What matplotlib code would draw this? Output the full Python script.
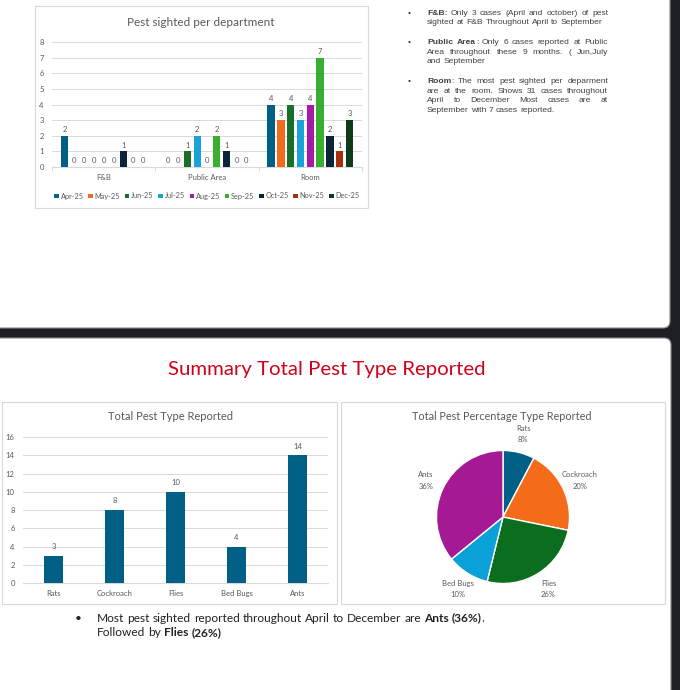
import matplotlib
matplotlib.use('Agg')
import matplotlib.pyplot as plt
import numpy as np
from matplotlib.patches import FancyBboxPatch, Rectangle

# ---------------- data ----------------
months = ['Apr-25', 'May-25', 'Jun-25', 'Jul-25', 'Aug-25', 'Sep-25', 'Oct-25', 'Nov-25', 'Dec-25']
departments = ['F&B', 'Public Area', 'Room']
fnb_counts = [2, 0, 0, 0, 0, 0, 1, 0, 0]
public_counts = [0, 0, 1, 2, 0, 2, 1, 0, 0]
room_counts = [4, 3, 4, 3, 4, 7, 2, 1, 3]
month_colors = ['#005F85', '#F26B1D', '#1A6E2A', '#1AA3DA', '#A51CA4',
                '#3AAE2E', '#0D2438', '#A5300F', '#0E3A17']

pest_types = ['Rats', 'Cockroach', 'Flies', 'Bed Bugs', 'Ants']
pest_totals = [3, 8, 10, 4, 14]
pest_pct_labels = ['8%', '20%', '26%', '10%', '36%']
pest_colors = ['#005F85', '#F46B1A', '#0B6E1E', '#0AA0D8', '#A51A94']

dept_yticks = list(range(0, 9))
type_yticks = list(range(0, 17, 2))

notes_top = [
    ["**F&B:** Only 3 cases (April and october)  of pest",
     "sighted at F&B Throughout April to September"],
    ["**Public Area**: Only 6 cases reported at Public",
     "Area throughout these 9 months. ( Jun,July",
     "and September"],
    ["**Room**: The most pest sighted per deparment",
     "are at the room. Shows 31 cases throughout",
     "April to December Most cases are at",
     "September with 7 cases reported."],
]
note_bottom = ["Most pest sighted reported throughout April to December are **Ants (36%)**,",
               "Followed by **Flies (26%)**"]

# ---------------- figure ----------------
W, H = 680, 690
GRAY = '#595959'
CHART_FONT = 'Lato'
fig = plt.figure(figsize=(W / 100, H / 100), dpi=100)
fig.patch.set_facecolor('#1E1F24')
bg = fig.add_axes([0, 0, 1, 1])
bg.set_xlim(0, W)
bg.set_ylim(H, 0)
bg.axis('off')
renderer = fig.canvas.get_renderer()

# slides
bg.add_patch(FancyBboxPatch((-20, -20), 690, 348, boxstyle='round,pad=0,rounding_size=7',
                            fc='white', ec='#8a8a8a', lw=0.8))
bg.add_patch(FancyBboxPatch((-20, 338), 691, 380, boxstyle='round,pad=0,rounding_size=7',
                            fc='white', ec='#8a8a8a', lw=0.8))
# chart frames
for (x0, y0, x1, y1) in [(35, 6, 368, 208), (2, 402, 337, 604), (341, 402, 665, 604)]:
    bg.add_patch(Rectangle((x0, y0), x1 - x0, y1 - y0, fill=False, ec='#d9d9d9', lw=0.8))


def measure(s, **kw):
    t = bg.text(0, 0, s, **kw)
    w = t.get_window_extent(renderer).width
    t.remove()
    return w


def fit_size(s, target, family, weight='normal'):
    return 10 * target / measure(s, fontsize=10, family=family, fontweight=weight)


def parse(line):
    chars, bold, i = [], False, 0
    while i < len(line):
        if line.startswith('**', i):
            bold = not bold
            i += 2
            continue
        chars.append((line[i], bold))
        i += 1
    words, cur = [], []
    for ch, b in chars:
        if ch == ' ':
            if cur:
                words.append(cur)
                cur = []
        else:
            cur.append((ch, b))
    if cur:
        words.append(cur)
    out = []
    for w in words:
        runs = []
        for ch, b in w:
            if runs and runs[-1][1] == b:
                runs[-1][0] += ch
            else:
                runs.append([ch, b])
        out.append(runs)
    return out


def draw_line(line, x0, yb, size, family, color, width=None):
    words = parse(line)
    kw = dict(fontsize=size, family=family)
    space = measure('x x', **kw) - measure('xx', **kw)
    widths = []
    for w in words:
        widths.append([measure(r, fontweight='bold' if b else 'normal', **kw) for r, b in w])
    total = sum(sum(ws) for ws in widths)
    gap = (width - total) / (len(words) - 1) if (width and len(words) > 1) else space
    x = x0
    for w, ws in zip(words, widths):
        for (r, b), rw in zip(w, ws):
            bg.text(x, yb, r, ha='left', va='baseline', color=color,
                    fontweight='bold' if b else 'normal', **kw)
            x += rw
        x += gap


def px_axes(x0, y0, x1, y1):
    return fig.add_axes([x0 / W, 1 - y1 / H, (x1 - x0) / W, (y1 - y0) / H])


def style_bar_axes(ax):
    for s in ['top', 'right', 'left']:
        ax.spines[s].set_visible(False)
    ax.spines['bottom'].set_color('#d9d9d9')
    ax.spines['bottom'].set_linewidth(0.8)
    ax.grid(axis='y', color='#d9d9d9', lw=0.7, zorder=0)
    ax.set_axisbelow(True)
    ax.tick_params(axis='both', length=0, labelsize=5.5, labelcolor=GRAY)
    ax.tick_params(axis='y', pad=6)
    ax.tick_params(axis='x', pad=5)
    ax.patch.set_alpha(0)
    for lab in ax.get_xticklabels() + ax.get_yticklabels():
        lab.set_family(CHART_FONT)


# ---------------- chart 1: per department ----------------
ax1 = px_axes(52, 42, 362, 167)
dept_matrix = np.array([fnb_counts, public_counts, room_counts])  # dept x month
xc = np.arange(len(departments))
step, bw = 0.095, 0.071
for i, m in enumerate(months):
    bars = ax1.bar(xc + (i - (len(months) - 1) / 2) * step, dept_matrix[:, i], bw,
                   color=month_colors[i], label=m, zorder=3)
    ax1.bar_label(bars, padding=2, fontsize=5.5, color=GRAY, family=CHART_FONT)
ax1.set_xlim(-0.5, len(departments) - 0.5)
ax1.set_ylim(0, 8)
ax1.set_yticks(dept_yticks)
ax1.set_xticks(xc)
ax1.set_xticklabels(departments)
style_bar_axes(ax1)
ax1.set_xticks(np.arange(-0.5, len(departments)), minor=True)
ax1.tick_params(axis='x', which='minor', length=3, color='#d9d9d9', width=0.8)
leg = ax1.legend(loc='center', bbox_to_anchor=(0.5, -0.232), ncol=9, frameon=False,
                 handlelength=0.6, handleheight=0.6, handletextpad=0.25,
                 columnspacing=0.65, prop={'family': CHART_FONT, 'size': 5.3})
for t in leg.get_texts():
    t.set_color(GRAY)
t1 = "Pest sighted per department"
bg.text(201, 22, t1, ha='center', va='center', color=GRAY, family=CHART_FONT,
        fontsize=fit_size(t1, 147, CHART_FONT))

# ---------------- chart 2: totals ----------------
ax2 = px_axes(23, 437, 328, 583)
xt = np.arange(len(pest_types))
bars = ax2.bar(xt, pest_totals, 0.31, color='#005F85', zorder=3)
ax2.bar_label(bars, padding=4, fontsize=5.5, color=GRAY, family=CHART_FONT)
ax2.set_xlim(-0.5, len(pest_types) - 0.5)
ax2.set_ylim(0, 16)
ax2.set_yticks(type_yticks)
ax2.set_xticks(xt)
ax2.set_xticklabels(pest_types)
style_bar_axes(ax2)
t2 = "Total Pest Type Reported"
bg.text(170, 417, t2, ha='center', va='center', color=GRAY, family=CHART_FONT,
        fontsize=fit_size(t2, 126, CHART_FONT))

# ---------------- chart 3: pie ----------------
cx, cy, r = 503, 517, 66.5
ax3 = px_axes(cx - r, cy - r, cx + r, cy + r)
wedges, _ = ax3.pie(pest_totals, colors=pest_colors, startangle=90, counterclock=False,
                    wedgeprops=dict(edgecolor='white', linewidth=1.0))
ax3.set_xlim(-1, 1)
ax3.set_ylim(-1, 1)
for w, name, pct in zip(wedges, pest_types, pest_pct_labels):
    ang = np.deg2rad((w.theta1 + w.theta2) / 2)
    ax3.text(1.28 * np.cos(ang), 1.28 * np.sin(ang), f"{name}\n{pct}",
             ha='center', va='center', fontsize=5.5, color=GRAY, family=CHART_FONT,
             linespacing=1.7)
t3 = "Total Pest Percentage Type Reported"
bg.text(502, 417, t3, ha='center', va='center', color=GRAY, family=CHART_FONT,
        fontsize=fit_size(t3, 179, CHART_FONT))

# ---------------- slide texts ----------------
NOTE_FONT = 'Liberation Sans'
note_size = fit_size(notes_top[0][1], 174, NOTE_FONT)
para_y = [[12.7, 22], [42, 51.5, 61], [81, 90.5, 100, 109.5]]
for para, ys in zip(notes_top, para_y):
    bg.text(409, ys[0] + 2.2, '\u2022', ha='center', va='baseline', fontsize=note_size,
            color='#333333', family=NOTE_FONT)
    for k, (line, y) in enumerate(zip(para, ys)):
        last = (k == len(para) - 1)
        draw_line(line, 427, y + 2.2, note_size, NOTE_FONT, '#404040',
                  width=None if last else 181)

title = "Summary Total Pest Type Reported"
bg.text(327, 369, title, ha='center', va='center', color='#D0021B', family='Lato',
        fontsize=fit_size(title, 319, 'Lato'))

bottom_size = fit_size(note_bottom[0].replace('**', ''), 393, 'Lato') * 0.98
bg.text(78, 618 + 3.5, '\u2022', ha='center', va='baseline', fontsize=bottom_size,
        color='#222222', family='Lato')
for line, y in zip(note_bottom, [618, 633]):
    draw_line(line, 97, y + 3.5, bottom_size, 'Lato', '#222222')

fig.savefig('out.png', dpi=100, facecolor=fig.get_facecolor())
